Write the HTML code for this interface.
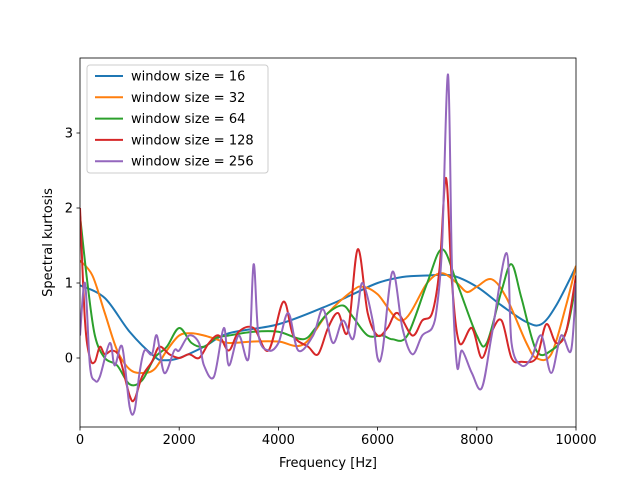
<!DOCTYPE html>
<html><head><meta charset="utf-8"><style>
body{margin:0;background:#fff;font-family:"Liberation Sans","DejaVu Sans",sans-serif}
svg text{font-family:"DejaVu Sans","Liberation Sans",sans-serif}
</style></head><body>
<svg id="c" width="640" height="480" xmlns="http://www.w3.org/2000/svg"></svg>
<script>
const xTicks=[0,2000,4000,6000,8000,10000];
const yTicks=[0,1,2,3];
const labels=["window size = 16","window size = 32","window size = 64","window size = 128","window size = 256"];
const colors=["#1f77b4","#ff7f0e","#2ca02c","#d62728","#9467bd"];
const f16=[0,500,1000,1500,1700,2000,2500,3000,4000,5000,5500,6000,6500,7000,7500,8000,8500,9000,9300,9600,10000];
const v16=[0.97,0.8,0.35,0.02,-0.03,0.0,0.15,0.33,0.45,0.7,0.85,1.0,1.08,1.1,1.1,0.95,0.7,0.48,0.45,0.7,1.22];
const f32=[0,250,500,750,1000,1250,1500,1750,2000,2250,2500,2750,3000,3500,4000,4500,5000,5500,5700,6000,6500,7000,7300,7600,7800,8000,8300,8600,9000,9200,9500,9800,10000];
const v32=[1.3,1.1,0.6,0.1,-0.15,-0.2,-0.15,0.1,0.3,0.33,0.3,0.25,0.2,0.22,0.22,0.18,0.6,0.9,0.95,0.85,0.5,1.0,1.13,1.0,0.88,0.95,1.05,0.8,0.2,0.0,0.05,0.7,1.23];
const f64=[0,150,300,500,750,1000,1250,1500,1750,2000,2250,2500,2750,3000,3500,4000,4500,4750,5000,5300,5500,5800,6100,6300,6600,7000,7300,7600,8000,8200,8500,8700,8900,9200,9500,9800,10000];
const v64=[1.9,1.0,0.3,0.0,-0.1,-0.35,-0.3,0.0,0.15,0.4,0.2,0.15,0.27,0.3,0.35,0.35,0.25,0.4,0.6,0.7,0.55,0.3,0.3,0.25,0.3,1.0,1.45,1.0,0.3,0.2,0.9,1.25,0.8,0.1,0.1,0.35,1.0];
const f128=[0,100,200,300,400,500,650,800,1000,1100,1250,1450,1600,1800,2000,2200,2400,2600,2800,3000,3200,3500,3800,4100,4300,4600,4800,5000,5200,5400,5600,5800,6000,6200,6400,6700,6900,7100,7250,7380,7500,7650,7900,8100,8300,8500,8700,8900,9200,9400,9600,9800,10000];
const v128=[2.0,0.5,0.0,-0.05,0.15,0.05,0.1,0.0,-0.5,-0.55,-0.25,-0.05,0.15,0.05,0.0,0.05,0.0,0.2,0.3,0.1,0.35,0.4,0.1,0.75,0.3,0.15,0.05,0.4,0.6,0.35,1.45,0.6,0.3,0.4,0.6,0.3,0.5,0.6,1.2,2.4,1.0,0.2,0.4,0.0,0.35,0.5,0.0,-0.05,0.0,0.45,0.2,0.35,1.1];
const f256=[0,100,200,300,400,600,700,850,1000,1100,1200,1300,1450,1550,1700,1900,2000,2200,2400,2500,2700,2900,3000,3200,3400,3500,3600,3800,4000,4200,4400,4700,4900,5100,5300,5500,5600,5700,5900,6000,6100,6300,6500,6700,6900,7100,7200,7300,7420,7500,7600,7700,7900,8100,8300,8600,8700,8900,9100,9300,9500,9700,9900,10000];
const v256=[0.3,1.0,-0.1,-0.3,-0.25,0.2,-0.1,0.15,-0.65,-0.7,-0.2,0.1,0.05,0.3,-0.2,0.1,0.1,0.3,0.2,-0.1,-0.25,0.4,-0.1,0.3,0.0,1.25,0.3,0.1,0.2,0.6,0.1,0.3,0.65,0.2,0.5,0.25,0.65,1.0,0.5,0.0,0.1,1.15,0.4,0.05,0.3,0.4,0.7,1.5,3.78,1.2,-0.1,0.1,-0.2,-0.4,0.3,1.4,0.2,-0.1,0.0,0.3,-0.2,0.3,0.1,1.0];
const series=[[f16,v16],[f32,v32],[f64,v64],[f128,v128],[f256,v256]];
const names=["line-window-16","line-window-32","line-window-64","line-window-128","line-window-256"];
const L=80,R=576,T=58,B=427;
const X=f=>L+(f-0)/10000*(R-L);
const Y=v=>358-v*75;
const svg=document.getElementById('c');
const NS="http://www.w3.org/2000/svg";
function mk(t,a,p){const e=document.createElementNS(NS,t);for(const k in a)e.setAttribute(k,a[k]);(p||svg).appendChild(e);return e;}
const cp=mk('clipPath',{id:'cp'});mk('rect',{x:L,y:T,width:R-L,height:B-T},cp);
series.forEach((s,i)=>{
  const pts=s[0].map((f,j)=>[X(f),Y(s[1][j])]);
  let d="M"+pts[0][0]+","+pts[0][1];
  for(let j=0;j<pts.length-1;j++){
    const p0=pts[Math.max(0,j-1)],p1=pts[j],p2=pts[j+1],p3=pts[Math.min(pts.length-1,j+2)];
    const c1=[p1[0]+(p2[0]-p0[0])/6,p1[1]+(p2[1]-p0[1])/6],c2=[p2[0]-(p3[0]-p1[0])/6,p2[1]-(p3[1]-p1[1])/6];
    d+=` C${c1[0]},${c1[1]} ${c2[0]},${c2[1]} ${p2[0]},${p2[1]}`;
  }
  const p=mk('path',{d:d,fill:'none',stroke:colors[i],'stroke-width':2,'stroke-linejoin':'round','clip-path':'url(#cp)'});
  
  
});
const fr=mk('rect',{x:L,y:T,width:R-L,height:B-T,fill:'none',stroke:'#000','stroke-width':0.8});


xTicks.forEach(t=>{
  mk('line',{x1:X(t),x2:X(t),y1:B,y2:B+3.5,stroke:'#000','stroke-width':0.8});
  const tx=mk('text',{x:X(t),y:B+17,'text-anchor':'middle','font-size':13,fill:'#000'});
  tx.textContent=t;
  
  
});
yTicks.forEach(t=>{
  mk('line',{x1:L,x2:L-3.5,y1:Y(t),y2:Y(t),stroke:'#000','stroke-width':0.8});
  const tx=mk('text',{x:L-7,y:Y(t)+4.5,'text-anchor':'end','font-size':13,fill:'#000'});
  tx.textContent=t;
  
  
});
const xl=mk('text',{x:(L+R)/2,y:467,'text-anchor':'middle','font-size':13});
xl.textContent="Frequency [Hz]";


const yl=mk('text',{x:0,y:0,'text-anchor':'middle','font-size':13,transform:`translate(52,${(T+B)/2}) rotate(-90)`});
yl.textContent="Spectral kurtosis";


const lg=mk('g',{});


mk('rect',{x:87,y:65,width:181,height:108,rx:3,fill:'#fff','fill-opacity':0.8,stroke:'#ccc'},lg);
labels.forEach((s,i)=>{
  const y=76+i*21.3;
  const ln=mk('line',{x1:95,x2:123,y1:y,y2:y,stroke:colors[i],'stroke-width':2},lg);
  
  
  const t=mk('text',{x:131,y:y+4.5,'font-size':13},lg);
  t.textContent=s;
  
  
});
</script>
</body></html>
